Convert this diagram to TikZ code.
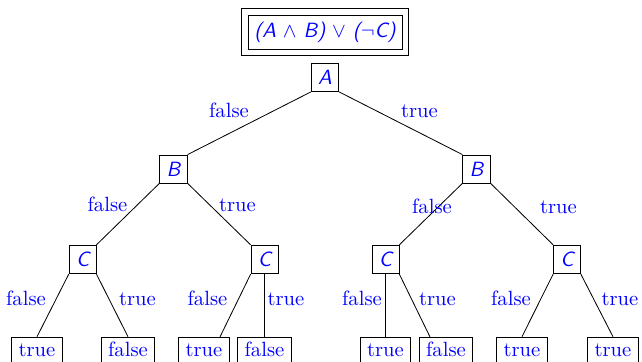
\documentclass[tikz,border=0pt]{standalone}
\begin{document}
\begin{tikzpicture}[x=0.485pt,y=-0.485pt,
  inner/.style={draw, text=blue, font=\sffamily\itshape, inner sep=3.33pt},
  leaf/.style={draw, text=blue, anchor=base, text height=6.15pt, text depth=0pt, inner sep=3.33pt},
  lbl/.style={text=blue, anchor=base, inner sep=0pt}]
\useasboundingbox (0,0) rectangle (642,362);
% formula
\node[draw, text=blue, minimum width=74.7pt, minimum height=16.5pt, inner sep=0pt, font=\sffamily\itshape] (F) at (325,32)
  {(A $\wedge$ B) $\vee$ ($\neg$C)};
\node[draw, minimum width=80.8pt, minimum height=22.8pt, inner sep=0pt] (Fo) at (324.75,32) {};
% inner nodes
\node[inner] (A) at (325,77.5) {A};
\node[inner] (B1) at (173.5,169) {B};
\node[inner] (B2) at (476.5,169) {B};
\node[inner] (C1) at (82.6,259.5) {C};
\node[inner] (C2) at (264.5,259.5) {C};
\node[inner] (C3) at (385.5,259.5) {C};
\node[inner] (C4) at (567,259.5) {C};
% leaves
\node[leaf] (L1) at (37,356.7) {true};
\node[leaf] (L2) at (128,356.7) {false};
\node[leaf] (L3) at (204,356.7) {true};
\node[leaf] (L4) at (264.5,356.7) {false};
\node[leaf] (L5) at (385.5,356.7) {true};
\node[leaf] (L6) at (446,356.7) {false};
\node[leaf] (L7) at (522,356.7) {true};
\node[leaf] (L8) at (613,356.7) {true};
% edges
\draw (A.south west) -- (B1.north east);
\draw (A.south east) -- (B2.north west);
\draw (B1.south west) -- (C1.north east);
\draw (B1.south east) -- (C2.north west);
\draw (B2.south west) -- (C3.north east);
\draw (B2.south east) -- (C4.north west);
\draw (C1.south west) -- (L1.north);
\draw (C1.south east) -- (L2.north);
\draw (C2.south west) -- ([xshift=7.8pt]L3.north);
\draw (C2.south) -- (L4.north);
\draw (C3.south) -- (L5.north);
\draw (C3.south east) -- ([xshift=-7.8pt]L6.north);
\draw (C4.south west) -- (L7.north);
\draw (C4.south east) -- (L8.north);
% edge labels
\node[lbl] (e1) at (229,118) {false};
\node[lbl] (e2) at (419.5,117.7) {true};
\node[lbl] (e3) at (107.5,212) {false};
\node[lbl] (e4) at (237.5,211.5) {true};
\node[lbl] (e5) at (432,214) {false};
\node[lbl] (e6) at (558.5,214) {true};
\node[lbl] (e7) at (26,305.5) {false};
\node[lbl] (e8) at (137.5,305.5) {true};
\node[lbl] (e9) at (207.5,305.5) {false};
\node[lbl] (e10) at (286,305.5) {true};
\node[lbl] (e11) at (362,305.5) {false};
\node[lbl] (e12) at (437.5,305.5) {true};
\node[lbl] (e13) at (511,305.5) {false};
\node[lbl] (e14) at (620,305.5) {true};
\end{tikzpicture}
\end{document}
